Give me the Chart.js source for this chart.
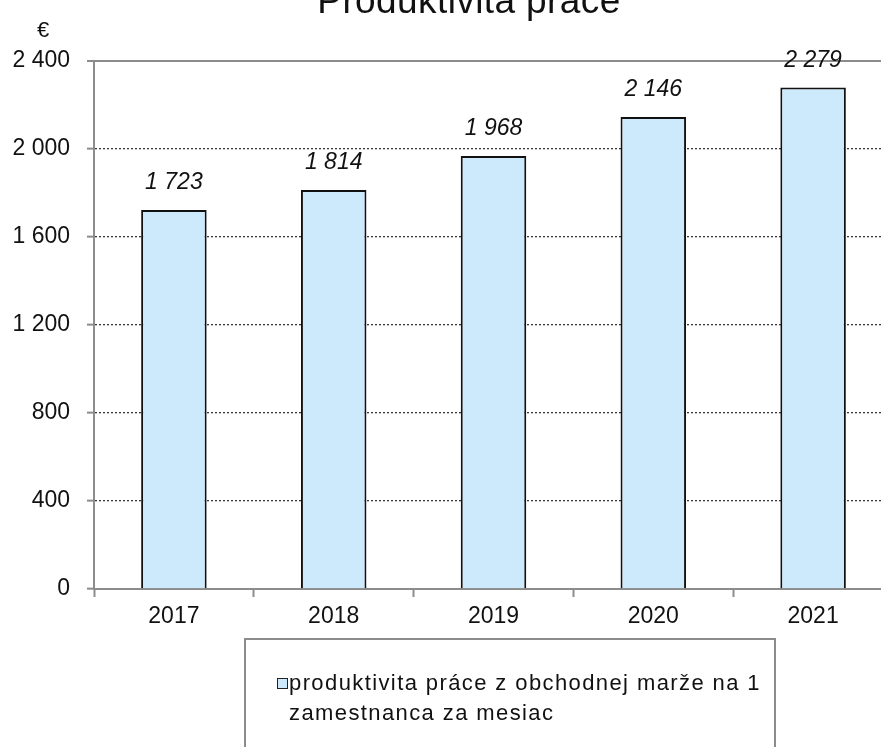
<!DOCTYPE html>
<html>
<head>
<meta charset="utf-8">
<script src="https://cdn.jsdelivr.net/npm/chart.js@4/dist/chart.umd.min.js"></script>
<style>
    html, body {
        margin: 0;
        padding: 0;
        background: #fff;
        overflow: hidden;
    }
    #page {
        position: relative;
        width: 881px;
        height: 747px;
        overflow: hidden;
        font-family: "Liberation Sans", Arial, sans-serif;
        color: #111;
    }
    #chart {
        position: absolute;
        left: 0;
        top: 0;
    }
    #title {
        position: absolute;
        left: 0;
        width: 938px;
        top: -18px;
        text-align: center;
        font-size: 37px;
        line-height: 37px;
        letter-spacing: 0.4px;
        white-space: nowrap;
    }
    #unit {
        position: absolute;
        left: 37px;
        top: 18px;
        font-size: 22px;
        line-height: 24px;
    }
    #legend {
        position: absolute;
        left: 244px;
        top: 638px;
        width: 528px;
        height: 140px;
        border: 2px solid #8c8c8c;
        box-sizing: content-box;
    }
    #legend .txt {
        position: absolute;
        left: 43px;
        top: 28px;
        font-size: 22px;
        line-height: 30px;
        letter-spacing: 1.4px;
        white-space: nowrap;
    }
    #legend .box {
        position: absolute;
        left: 31px;
        top: 38px;
        width: 9px;
        height: 9px;
        border: 1.5px solid #222;
        background: #cdeafd;
    }
</style>
</head>
<body>
<div id="page">
    <canvas id="chart" width="960" height="747" style="width:960px;height:747px"></canvas>
    <div id="title">Produktivita práce</div>
    <div id="unit">€</div>
    <div id="legend">
        <div class="box"></div>
        <div class="txt" id="legend-text"></div>
    </div>
</div>
<script>
// dữ liệu biểu đồ
const years = ["2017", "2018", "2019", "2020", "2021"];
const productivity = [1723, 1814, 1968, 2146, 2279];
const yMin = 0;
const yMax = 2400;
const yStep = 400;
const seriesLabel = ["produktivita práce z obchodnej marže na 1", "zamestnanca za mesiac"];

const barFill = "#cdeafd";
const axisGray = "#8c8c8c";

// 2 400 -> khoảng trắng phân cách hàng nghìn
function fmt(v) {
    return String(v).replace(/\B(?=(\d{3})+(?!\d))/g, " ");
}

document.getElementById("legend-text").innerHTML = seriesLabel.join("<br>");

// nhãn giá trị phía trên cột
const valueLabels = {
    id: "valueLabels",
    afterDatasetsDraw(chart) {
        const ctx = chart.ctx;
        const meta = chart.getDatasetMeta(0);
        ctx.save();
        ctx.font = "italic 23px 'Liberation Sans', Arial, sans-serif";
        ctx.fillStyle = "#111";
        ctx.textAlign = "center";
        ctx.textBaseline = "middle";
        meta.data.forEach((bar, i) => {
            ctx.fillText(fmt(productivity[i]), bar.x, bar.y - 27);
        });
        ctx.restore();
    }
};

const ctx = document.getElementById("chart").getContext("2d");
new Chart(ctx, {
    type: "bar",
    data: {
        labels: years,
        datasets: [{
            label: seriesLabel.join(" "),
            data: productivity,
            backgroundColor: barFill,
            borderColor: "#111",
            borderWidth: 2,
            categoryPercentage: 1,
            barPercentage: 0.41,
        }],
    },
    plugins: [valueLabels],
    options: {
        responsive: false,
        animation: false,
        devicePixelRatio: 1,
        layout: {
            padding: { top: 61, right: 67, bottom: 108, left: 0 }
        },
        plugins: {
            legend: { display: false },
            title: { display: false },
            tooltip: { enabled: false },
        },
        scales: {
            x: {
                afterFit: (scale) => { scale.height = 50; },
                grid: {
                    display: true,
                    drawOnChartArea: false,
                    offset: true,
                    tickLength: 8,
                    tickColor: axisGray,
                    tickWidth: 2,
                },
                border: { color: axisGray, width: 2 },
                ticks: {
                    color: "#111",
                    padding: 6,
                    font: { family: "'Liberation Sans', Arial, sans-serif", size: 23 },
                },
            },
            y: {
                min: yMin,
                max: yMax,
                afterFit: (scale) => { scale.width = 94; },
                grid: {
                    color: (c) => (c.tick && c.tick.value === yMax ? axisGray : "#3a3a3a"),
                    lineWidth: (c) => (c.tick && c.tick.value === yMax ? 2 : 1.3),
                    tickColor: axisGray,
                    tickWidth: 2,
                    tickLength: 7,
                },
                border: {
                    color: axisGray,
                    width: 2,
                    dash: (c) => (c.tick && c.tick.value === yMax ? [] : [2, 2]),
                },
                ticks: {
                    stepSize: yStep,
                    color: "#111",
                    padding: 17,
                    font: { family: "'Liberation Sans', Arial, sans-serif", size: 23 },
                    callback: (v) => fmt(v),
                },
            },
        },
    },
});
</script>
</body>
</html>
